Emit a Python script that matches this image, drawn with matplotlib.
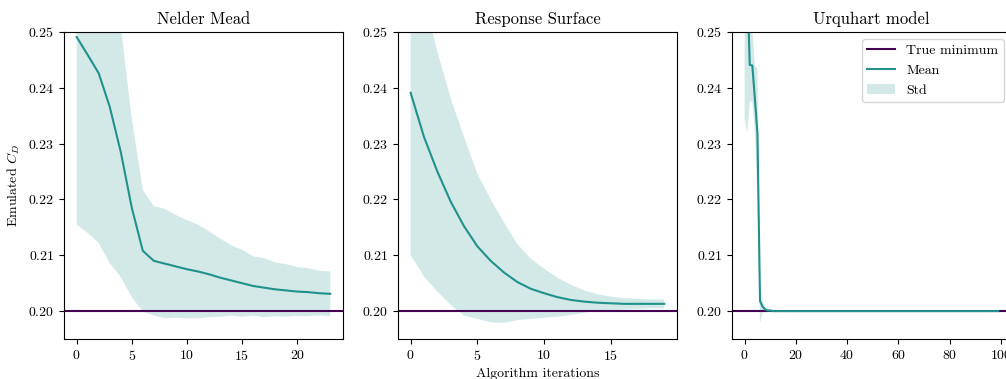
import numpy as np
import matplotlib
matplotlib.use("Agg")
import matplotlib.pyplot as plt

plt.rcParams['font.family'] = ['cmr10', 'DejaVu Serif']
plt.rcParams['mathtext.fontset'] = 'cm'
plt.rcParams['axes.formatter.use_mathtext'] = True
plt.rcParams['font.size'] = 10

true_min = 0.20

# Nelder Mead
nm_mean = [0.2491, 0.2459, 0.2426, 0.2366, 0.2285, 0.2185, 0.2108, 0.2090,
           0.2085, 0.2080, 0.2075, 0.2071, 0.2066, 0.2060, 0.2055, 0.2050,
           0.2045, 0.2042, 0.2039, 0.2037, 0.2035, 0.2034, 0.2032, 0.2031]
nm_std = [0.0336, 0.0319, 0.0304, 0.0280, 0.0224, 0.0160, 0.0109, 0.0098,
          0.0098, 0.0092, 0.0088, 0.0084, 0.0077, 0.0070, 0.0063, 0.0060,
          0.0053, 0.0053, 0.0048, 0.0047, 0.0044, 0.0043, 0.0040, 0.0040]

# Response surface
rs_mean = [0.2391, 0.2312, 0.2250, 0.2196, 0.2152, 0.2116, 0.2090, 0.2069,
           0.2052, 0.2040, 0.2032, 0.2025, 0.2020, 0.2017, 0.2015, 0.2014,
           0.2013, 0.2013, 0.2013, 0.2013]
rs_std = [0.0291, 0.0250, 0.0215, 0.0185, 0.0160, 0.0130, 0.0110, 0.0090,
          0.0068, 0.0054, 0.0044, 0.0035, 0.0027, 0.0020, 0.0015, 0.0012,
          0.0010, 0.0009, 0.0008, 0.0008]

# Urquhart model (first iterations, then flat at the minimum)
uq_mean_start = [0.2720, 0.2590, 0.2441, 0.2440, 0.2380, 0.2318, 0.2018,
                 0.2008, 0.2003, 0.2001, 0.2001, 0.2000, 0.2000, 0.2000, 0.2000]
uq_std_start = [0.0374, 0.0272, 0.0066, 0.0064, 0.0060, 0.0117, 0.0040,
                0.0010, 0.0005, 0.0003, 0.0002, 0.0001, 0.0001, 0.0001, 0.0001]
uq_len = 100
uq_mean = uq_mean_start + [0.2000] * (uq_len - len(uq_mean_start))
uq_std = uq_std_start + [0.0] * (uq_len - len(uq_std_start))

titles = ["Nelder Mead", "Response Surface", "Urquhart model"]
means = [nm_mean, rs_mean, uq_mean]
stds = [nm_std, rs_std, uq_std]

col_min = "#440154"
col_mean = "#21918c"

fig = plt.figure(figsize=(10.06, 3.79), dpi=100)
# the last panel runs slightly past the right edge, as in the original
lefts = [0.0636, 0.3956, 0.7276]
axes = []
for i in range(3):
    ax = fig.add_axes([lefts[i], 0.1055, 0.2773, 0.8101])
    m = np.array(means[i])
    s = np.array(stds[i])
    it = np.arange(len(m))
    ax.axhline(true_min, color=col_min, lw=1.5, label="True minimum")
    ax.plot(it, m, color=col_mean, lw=1.5, label="Mean")
    ax.fill_between(it, m - s, m + s, color=col_mean, alpha=0.2, lw=0, label="Std")
    ax.set_ylim(0.195, 0.25)
    ax.set_yticks([0.20, 0.21, 0.22, 0.23, 0.24, 0.25])
    ax.set_title(titles[i], fontsize=12)
    axes.append(ax)

axes[0].set_ylabel("Emulated $C_D$")
axes[1].set_xlabel("Algorithm iterations")
axes[2].legend(loc="upper right")

fig.savefig("out.png", dpi=100)
